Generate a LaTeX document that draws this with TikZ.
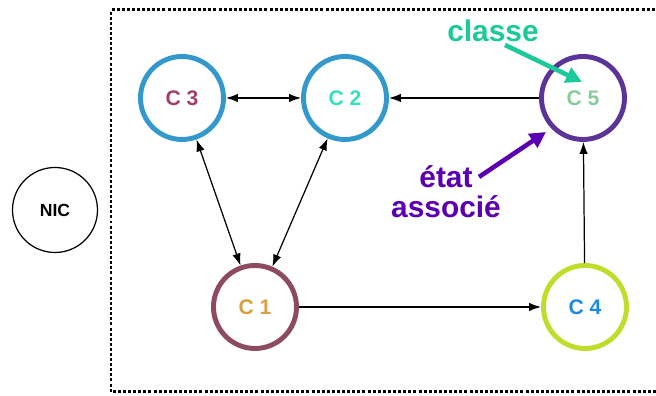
\documentclass[tikz,border=0pt]{standalone}
\usepackage{fontspec}
\setmainfont{Liberation Sans}
\usepackage{tikz}
\usetikzlibrary{positioning,arrows.meta}
\definecolor{ringblue}{HTML}{3399CC}
\definecolor{ringpurple}{HTML}{5B3399}
\definecolor{ringmaroon}{HTML}{8E4A63}
\definecolor{ringlime}{HTML}{BFDD2A}
\definecolor{txtmaroon}{HTML}{A0406A}
\definecolor{txtteal}{HTML}{33E0C0}
\definecolor{txtgreen}{HTML}{88CC99}
\definecolor{txtorange}{HTML}{D9A040}
\definecolor{txtblue}{HTML}{1E88E5}
\definecolor{classegreen}{HTML}{1CC99A}
\definecolor{etatpurple}{HTML}{5A00B0}
\tikzset{
  linkarrow/.style={-{Latex[length=2.4mm,width=1.7mm]}, line width=0.7pt},
  bilink/.style={{Latex[length=2.4mm,width=1.7mm]}-{Latex[length=2.4mm,width=1.7mm]}, line width=0.7pt},
  classnode/.style={circle, draw, line width=2.8pt, minimum size=1.66cm, inner sep=0pt, font=\bfseries\large},
  nicnode/.style={circle, draw, line width=0.7pt, minimum size=1.7cm, inner sep=0pt, font=\bfseries},
  callout/.style={font=\bfseries\fontsize{17}{19}\selectfont, align=center},
  calloutarrow/.style={-{Triangle[length=3.2mm,width=3.2mm]}, line width=2.6pt}
}
\begin{document}
\begin{tikzpicture}
  \useasboundingbox (0,0) rectangle (13.12,7.92);
  % frame round the classes
  \draw[line width=1.7pt, dash pattern=on 1.7pt off 1.2pt] (13.4,7.72) -- (2.22,7.72) -- (2.22,0.08) -- (13.4,0.08);
  \node[nicnode] (nic) at (1.10,3.72) {NIC};
  \node[classnode, draw=ringblue, text=txtmaroon] (c3) at (3.64,5.96) {C 3};
  \node[classnode, draw=ringblue, text=txtteal] (c2) at (6.90,5.96) {C 2};
  \node[classnode, draw=ringpurple, text=txtgreen] (c5) at (11.66,5.96) {C 5};
  \node[classnode, draw=ringmaroon, text=txtorange] (c1) at (5.10,1.78) {C 1};
  \node[classnode, draw=ringlime, text=txtblue] (c4) at (11.70,1.78) {C 4};
  \draw[bilink] (c3) -- (c2);
  \draw[linkarrow] (c5) -- (c2);
  \draw[bilink] (c3) -- (c1);
  \draw[bilink] (c2) -- (c1);
  \draw[linkarrow] (c1) -- (c4);
  \draw[linkarrow] (c4) -- (c5);
  % labels
  \node[callout, text=classegreen] (classe) at (9.86,7.30) {classe};
  \node[callout, text=etatpurple] (etat) at (8.92,4.08) {état\\[-2pt]associé};
  \coordinate (classefrom) at (10.10,7.02);
  \coordinate (classeto) at (11.64,6.28);
  \coordinate (etatfrom) at (9.58,4.38);
  \coordinate (etatto) at (10.92,5.28);
  \draw[calloutarrow, classegreen] (classefrom) -- (classeto);
  \draw[calloutarrow, etatpurple] (etatfrom) -- (etatto);
\end{tikzpicture}
\end{document}
